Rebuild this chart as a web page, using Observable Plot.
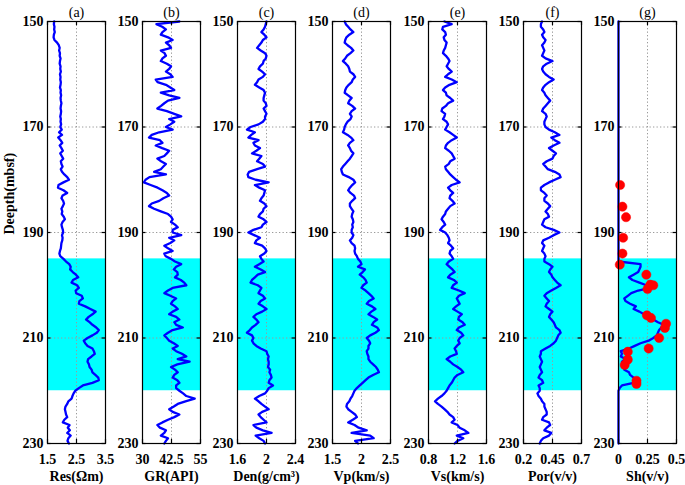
<!DOCTYPE html>
<html><head><meta charset="utf-8">
<script src="https://cdn.jsdelivr.net/npm/d3@7"></script>
<script src="https://cdn.jsdelivr.net/npm/@observablehq/plot@0.6"></script>
<style>
html,body{margin:0;padding:0;background:#fff;}
#chart{position:relative;width:685px;height:485px;overflow:hidden;background:#fff;}
#chart svg{position:absolute;top:0;}
</style></head><body><div id="chart"></div>
<script>
// sampling depths (m), 0.5 m step
const depth = d3.range(0, 161).map(i => 150 + i * 0.5);
const depthTicks = [150, 170, 190, 210, 230];
const hydrateBand = [{top: 195, bottom: 220}];

const res = [
1.73,1.72,1.74,1.73,1.75,1.72,1.71,1.74,1.83,1.89,
1.92,1.90,1.93,1.92,1.95,1.93,1.92,1.95,1.94,1.96,
1.93,1.95,1.94,1.96,1.95,1.93,1.96,1.95,1.97,1.95,
1.96,1.98,1.96,1.95,1.97,1.96,1.94,1.96,1.95,1.97,
1.94,1.99,1.90,2.00,1.87,1.95,2.01,1.92,1.98,2.03,
1.94,1.99,2.04,1.96,1.98,2.02,1.96,2.00,2.08,2.18,
2.24,2.05,1.88,1.86,2.05,2.18,2.02,1.98,2.04,2.07,
2.03,1.98,2.01,1.99,2.06,2.10,2.02,1.98,2.00,2.03,
2.04,2.00,2.02,2.01,1.98,1.97,1.96,1.93,1.91,1.94,
2.05,2.14,2.25,2.30,2.28,2.37,2.48,2.56,2.38,2.33,
2.52,2.58,2.47,2.49,2.68,2.72,2.60,2.58,2.80,2.98,
3.16,3.05,2.92,2.83,2.95,3.05,3.18,3.27,3.20,3.05,
2.88,2.75,2.80,2.88,3.05,3.10,3.13,3.02,2.90,2.88,
2.93,2.95,3.02,3.05,3.15,3.25,3.27,3.05,2.72,2.58,
2.46,2.40,2.36,2.33,2.22,2.18,2.12,2.10,2.12,2.14,
2.18,2.08,2.03,2.26,2.20,2.27,2.18,2.30,2.22,2.19,
2.24];

const gr = [
45.9,36.0,38.5,40.1,38.6,37.9,41.0,43.0,40.1,41.5,
42.3,37.9,39.5,40.1,38.6,37.9,40.5,42.3,41.5,40.1,
42.0,43.0,35.7,36.5,40.1,42.0,43.7,37.9,41.5,45.9,
41.0,39.4,38.0,36.4,40.5,43.7,46.7,41.5,43.7,42.0,
40.1,43.0,37.2,34.0,32.8,37.5,38.6,35.7,38.5,41.5,
40.5,39.4,36.4,38.0,40.1,39.0,37.9,35.0,40.1,33.0,
31.3,30.6,33.5,36.5,38.6,40.5,41.5,39.0,37.2,34.0,
32.8,35.0,37.9,41.0,42.3,43.0,42.3,44.0,45.2,43.0,
43.0,46.7,41.5,43.7,42.0,39.4,41.0,43.0,39.4,40.0,
42.3,44.0,46.7,44.5,43.5,45.0,45.2,44.0,46.5,48.0,
48.9,43.0,41.0,39.4,42.0,44.5,43.0,42.3,44.0,45.2,
43.0,41.5,44.5,45.9,43.7,44.5,47.4,43.0,41.0,39.4,
40.5,41.5,43.5,45.2,43.0,44.5,47.0,48.9,45.2,50.3,
45.0,42.3,44.0,45.2,43.7,43.0,45.0,45.9,44.5,44.5,
45.9,47.5,48.9,52.5,48.5,45.2,43.5,41.5,43.0,45.9,
43.7,41.0,38.6,36.4,37.5,40.1,39.4,37.9,41.0,40.1,
39.4];

const den = [
2.00,1.99,1.98,1.96,1.93,1.97,2.00,1.95,1.93,1.90,
1.87,1.92,1.98,2.00,1.99,1.96,1.95,1.91,1.89,1.94,
1.98,1.95,1.89,1.87,1.84,1.90,1.96,1.98,1.97,1.96,
1.96,1.99,2.00,1.96,1.98,2.00,1.98,1.98,1.95,1.89,
1.78,1.73,1.84,1.79,1.75,1.89,1.82,1.84,1.91,1.86,
1.80,1.93,1.90,1.87,1.95,1.98,1.87,1.76,1.74,1.75,
1.85,2.03,1.84,1.90,1.98,1.97,1.96,1.93,1.91,1.97,
2.00,1.96,1.95,1.91,1.89,1.96,2.00,1.95,1.93,1.82,
1.75,1.83,1.91,1.86,1.84,1.94,1.98,2.00,1.97,1.91,
1.93,1.96,1.90,1.84,1.92,1.98,1.88,1.84,1.80,1.78,
1.88,1.93,1.91,1.89,1.95,1.98,1.92,1.89,1.95,2.00,
1.94,1.86,1.82,1.86,1.89,1.85,1.80,1.77,1.73,1.80,
1.82,1.80,1.82,1.86,1.92,2.00,2.01,2.03,2.02,2.03,
2.03,2.02,2.05,2.04,2.06,2.07,2.04,2.03,2.09,2.03,
2.01,1.98,1.90,1.84,1.89,1.93,1.98,2.03,1.94,1.89,
1.92,1.96,2.00,1.82,1.86,1.95,2.07,1.85,1.90,1.96,
1.98];

const vp = [
1.71,1.73,1.77,1.81,1.86,1.79,1.74,1.72,1.71,1.76,
1.82,1.86,1.81,1.75,1.72,1.68,1.73,1.77,1.79,1.80,
1.86,1.89,1.85,1.83,1.78,1.74,1.72,1.71,1.77,1.83,
1.79,1.77,1.84,1.89,1.83,1.80,1.83,1.81,1.76,1.73,
1.71,1.70,1.68,1.76,1.82,1.86,1.80,1.77,1.80,1.82,
1.86,1.83,1.80,1.76,1.72,1.68,1.65,1.66,1.68,1.78,
1.86,1.89,1.84,1.80,1.77,1.81,1.87,1.89,1.84,1.80,
1.80,1.83,1.86,1.84,1.83,1.85,1.86,1.84,1.85,1.83,
1.83,1.86,1.84,1.80,1.83,1.88,1.89,1.88,1.89,1.92,
1.94,1.98,2.00,1.94,2.06,2.02,1.97,2.03,2.07,2.09,
2.03,2.00,2.07,2.12,2.17,2.21,2.13,2.09,2.18,2.24,
2.17,2.12,2.20,2.27,2.21,2.18,2.27,2.30,2.24,2.15,
2.09,2.13,2.15,2.12,2.12,2.09,2.10,2.12,2.12,2.15,
2.20,2.25,2.28,2.30,2.20,2.12,2.07,2.02,1.97,1.92,
1.88,1.86,1.84,1.81,1.79,1.75,1.74,1.77,1.83,1.89,
1.92,1.85,1.77,1.88,1.95,2.09,1.83,2.15,2.21,1.89,
1.94];

const vs = [
1.02,1.12,1.00,0.99,1.03,1.04,1.01,1.02,1.05,1.04,
1.03,1.01,1.00,1.04,1.07,1.09,1.07,1.05,1.08,1.12,
1.07,1.03,1.12,1.19,1.09,1.03,1.00,1.04,1.05,1.10,
1.14,1.07,1.04,0.99,0.98,1.03,1.02,1.00,1.05,1.07,
1.05,1.03,1.09,1.14,1.19,1.12,1.07,1.04,1.03,1.08,
1.12,1.14,1.16,1.10,1.08,1.03,1.04,1.07,1.10,1.14,
1.18,1.23,1.12,1.07,1.10,1.14,1.10,1.09,1.13,1.16,
1.10,1.07,1.04,1.03,1.00,0.98,1.01,1.03,0.99,0.96,
1.03,1.06,1.08,1.09,1.07,1.11,1.14,1.10,1.09,1.12,
1.14,1.08,1.05,1.09,1.13,1.16,1.10,1.07,1.15,1.19,
1.14,1.12,1.22,1.30,1.22,1.19,1.21,1.23,1.18,1.14,
1.20,1.26,1.22,1.21,1.27,1.30,1.22,1.19,1.25,1.28,
1.23,1.21,1.23,1.19,1.16,1.18,1.19,1.10,1.05,1.10,
1.14,1.20,1.25,1.28,1.20,1.16,1.14,1.12,1.09,1.07,
1.05,1.02,0.98,0.93,0.89,0.93,0.98,1.02,1.06,1.09,
1.14,1.16,1.12,1.20,1.23,1.30,1.35,1.19,1.28,1.20,
1.16];

const por = [
0.36,0.35,0.35,0.37,0.38,0.36,0.37,0.39,0.38,0.36,
0.37,0.38,0.37,0.36,0.39,0.45,0.40,0.37,0.36,0.37,
0.39,0.42,0.46,0.42,0.39,0.37,0.36,0.38,0.39,0.41,
0.43,0.41,0.39,0.37,0.36,0.39,0.40,0.39,0.38,0.38,
0.39,0.42,0.47,0.51,0.44,0.47,0.51,0.46,0.42,0.45,
0.48,0.46,0.45,0.40,0.37,0.39,0.41,0.47,0.51,0.52,
0.47,0.42,0.38,0.35,0.35,0.38,0.40,0.38,0.38,0.41,
0.43,0.41,0.39,0.41,0.42,0.38,0.37,0.36,0.39,0.46,
0.51,0.46,0.42,0.37,0.36,0.38,0.37,0.36,0.38,0.39,
0.38,0.38,0.42,0.45,0.43,0.42,0.44,0.45,0.47,0.49,
0.52,0.48,0.44,0.40,0.38,0.40,0.42,0.40,0.39,0.42,
0.45,0.43,0.42,0.44,0.46,0.47,0.48,0.51,0.52,0.50,
0.49,0.48,0.46,0.43,0.39,0.35,0.35,0.34,0.35,0.36,
0.35,0.34,0.35,0.36,0.34,0.33,0.36,0.37,0.33,0.34,
0.34,0.32,0.33,0.35,0.36,0.38,0.38,0.39,0.40,0.40,
0.37,0.36,0.42,0.43,0.40,0.38,0.44,0.42,0.37,0.35,
0.34];

const sh = [
0,0,0,0,0,0,0,0,0,0,
0,0,0,0,0,0,0,0,0,0,
0,0,0,0,0,0,0,0,0,0,
0,0,0,0,0,0,0,0,0,0,
0,0,0,0,0,0,0,0,0,0,
0,0,0,0,0,0,0,0,0,0,
0,0,0,0,0,0,0,0,0,0,
0,0,0,0,0,0,0,0,0,0,
0,0,0,0,0,0,0,0,0,0,
0,0,0.19,0.19,0.18,0.17,0.13,0.09,0.12,0.18,
0.24,0.27,0.17,0.11,0.08,0.05,0.06,0.10,0.15,0.13,
0.18,0.22,0.27,0.30,0.34,0.39,0.37,0.35,0.34,0.33,
0.30,0.26,0.19,0.14,0.09,0.02,0.03,0.02,0.06,0.03,
0.05,0.06,0.05,0.09,0.10,0.13,0.15,0.13,0.03,0.01,
0,0,0,0,0,0,0,0,0,0,
0,0,0,0,0,0,0,0,0,0,
0];

// measured hydrate saturation (red dots)
const shCoreDepth = [181.0,185.1,187.1,191.0,194.0,196.1,198.0,199.9,200.0,200.7,205.7,206.2,207.3,208.1,210.0,212.0,212.6,214.1,215.1,218.1,218.7];
const shCoreValue = [0.014,0.034,0.065,0.04,0.034,0.011,0.24,0.274,0.30,0.25,0.245,0.28,0.41,0.40,0.35,0.26,0.08,0.08,0.053,0.155,0.155];

const titles = ["(a)","(b)","(c)","(d)","(e)","(f)","(g)"];
const xLabels = ["Res(Ωm)","GR(API)","Den(g/cm³)","Vp(km/s)","Vs(km/s)","Por(v/v)","Sh(v/v)"];
const xDomains = [[1.5,3.5],[30,55],[1.6,2.4],[1.5,2.5],[0.8,1.6],[0.2,0.7],[0,0.5]];
const xTicks = [[1.5,2.5,3.5],[30,42.5,55],[1.6,2,2.4],[1.5,2,2.5],[0.8,1.2,1.6],[0.2,0.45,0.7],[0,0.25,0.5]];
const series = [res, gr, den, vp, vs, por, sh];

const panelLefts = [47,142,237,332,428,523,618];
const panelWidth = 58;
const container = document.getElementById("chart");

series.forEach((vals, i) => {
  const mL = i === 0 ? 47 : 40, mR = 8;
  const [x0, x1] = xDomains[i];
  const mid = xTicks[i][1];
  const tk = (x1 - x0) * 0.06;
  const rows = depth.map((d, j) => ({d, v: vals[j]}));
  const marks = [
    Plot.rect(hydrateBand, {x1: () => x0, x2: () => x1, y1: "top", y2: "bottom", fill: "#00ffff"}),
    Plot.ruleY(depthTicks.slice(1, -1), {stroke: "#9a9a9a", strokeWidth: 1, strokeDasharray: "1.3,2.2"}),
    Plot.ruleX([mid], {stroke: "#9a9a9a", strokeWidth: 1, strokeDasharray: "1.3,2.2"}),
    Plot.line(rows, {x: "v", y: "d", stroke: "#0000ff", strokeWidth: 2.3, strokeLinejoin: "round"}),
  ];
  if (i === 6) {
    const pts = shCoreDepth.map((d, j) => ({d, v: shCoreValue[j]}));
    marks.push(Plot.dot(pts, {x: "v", y: "d", r: 4.6, fill: "#ff0000", stroke: "#ff0000", strokeWidth: 0.5}));
  }
  marks.push(
    Plot.frame({stroke: "#000", strokeWidth: 1.2}),
    Plot.ruleY(depthTicks, {x1: () => x0, x2: () => x0 + tk, stroke: "#000", strokeWidth: 1.2}),
    Plot.ruleY(depthTicks, {x1: () => x1 - tk, x2: () => x1, stroke: "#000", strokeWidth: 1.2}),
    Plot.ruleX(xTicks[i], {y1: () => 230, y2: () => 229.2, stroke: "#000", strokeWidth: 1.2}),
    Plot.ruleX(xTicks[i], {y1: () => 150, y2: () => 150.8, stroke: "#000", strokeWidth: 1.2}),
    Plot.axisY(depthTicks, {anchor: "left", tickSize: 0, tickPadding: 4, fontSize: 14, fontWeight: "bold", label: null}),
    Plot.axisX(xTicks[i], {anchor: "bottom", tickSize: 0, tickPadding: 11, fontSize: 14, fontWeight: "bold", label: null, tickFormat: d => String(d)}),
    Plot.text([titles[i]], {text: d => d, frameAnchor: "top", lineAnchor: "middle", dy: -9, fontSize: 14, fontWeight: "normal", fill: "#000"}),
    Plot.text([xLabels[i]], {text: d => d, frameAnchor: "bottom", lineAnchor: "middle", dy: 33, fontSize: 14, fontWeight: "bold", fill: "#000"})
  );
  if (i === 0) {
    marks.push(Plot.text(["Deepth(mbsf)"], {text: d => d, frameAnchor: "left", lineAnchor: "middle", rotate: -90, dx: -38, dy: 2, fontSize: 14, fontWeight: "bold", fill: "#000"}));
  }
  const svg = Plot.plot({
    width: mL + panelWidth + mR,
    height: 485,
    marginLeft: mL,
    marginRight: mR,
    marginTop: 21,
    marginBottom: 42,
    x: {domain: xDomains[i]},
    y: {domain: [150, 230], reverse: true},
    style: {fontFamily: "'Liberation Serif', 'Times New Roman', serif", fontSize: "14px", color: "#000", background: "transparent", overflow: "visible"},
    marks
  });
  svg.style.left = (panelLefts[i] - mL) + "px";
  container.appendChild(svg);
});
</script></body></html>
